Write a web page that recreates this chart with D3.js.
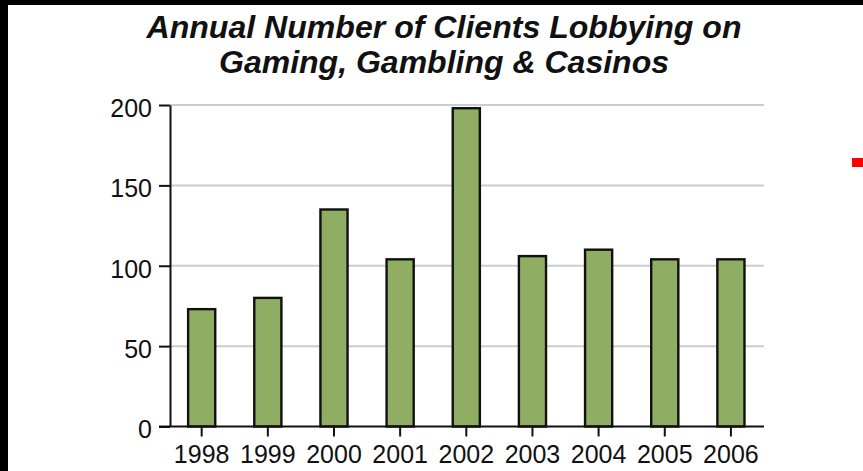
<!DOCTYPE html>
<html>
<head>
<meta charset="utf-8">
<script src="https://cdn.jsdelivr.net/npm/d3@7"></script>
<style>
  body { margin: 0; background: #fff; }
  svg { display: block; }
</style>
</head>
<body>
<svg id="chart" width="863" height="471"></svg>
<script>
// data
const years = ["1998", "1999", "2000", "2001", "2002", "2003", "2004", "2005", "2006"];
const clients = [73, 80, 135, 104, 198, 106, 110, 104, 104];
const yTicks = [0, 50, 100, 150, 200];
const titleLines = ["Annual Number of Clients Lobbying on", "Gaming, Gambling & Casinos"];

const width = 863;
const height = 471;
const margin = { top: 105, right: 99, bottom: 44.5, left: 170 };

const svg = d3.select("#chart");

// white page with the dark frame bits
svg.append("rect").attr("width", width).attr("height", height).attr("fill", "#fff");
svg.append("rect").attr("x", 0).attr("y", 0).attr("width", width).attr("height", 5).attr("fill", "#000");
svg.append("rect").attr("x", 0).attr("y", 0).attr("width", 8).attr("height", height).attr("fill", "#000");
svg.append("rect").attr("x", 852).attr("y", 158).attr("width", 11).attr("height", 9).attr("fill", "#f00");

const yScale = d3.scaleLinear()
  .domain([0, 200])
  .range([height - margin.bottom, margin.top]);

const xScale = d3.scaleBand()
  .domain(years)
  .range([168.6, width - margin.right])
  .paddingInner(0.59)
  .paddingOuter(0.295);

const axisFont = "'Liberation Sans', Arial, sans-serif";
const tickLen = 11;

// gridlines
svg.append("g")
  .selectAll("line")
  .data(yTicks.filter(d => d !== 0))
  .join("line")
  .attr("x1", margin.left)
  .attr("x2", width - margin.right)
  .attr("y1", d => yScale(d))
  .attr("y2", d => yScale(d))
  .attr("stroke", "#cccccc")
  .attr("stroke-width", 2);

// bars
svg.append("g")
  .selectAll("rect")
  .data(clients)
  .join("rect")
  .attr("x", (d, i) => xScale(years[i]))
  .attr("y", d => yScale(d))
  .attr("width", xScale.bandwidth())
  .attr("height", d => yScale(0) - yScale(d))
  .attr("fill", "#8fae63")
  .attr("stroke", "#111")
  .attr("stroke-width", 2.4);

// y axis
const yAxis = d3.axisLeft(yScale)
  .tickValues(yTicks)
  .tickSize(tickLen)
  .tickSizeOuter(0)
  .tickPadding(7);
const gy = svg.append("g")
  .attr("transform", `translate(${margin.left}, 0)`)
  .call(yAxis);
gy.select(".domain").attr("stroke", "#111").attr("stroke-width", 2);
gy.selectAll(".tick line").attr("stroke", "#111").attr("stroke-width", 2);
gy.selectAll(".tick text")
  .attr("dy", "0.45em")
  .attr("fill", "#111")
  .style("font-family", axisFont)
  .style("font-size", "25px");

// x axis
const xAxis = d3.axisBottom(xScale)
  .tickSize(10)
  .tickSizeOuter(0)
  .tickPadding(9);
const gx = svg.append("g")
  .attr("transform", `translate(0, ${yScale(0)})`)
  .call(xAxis);
gx.select(".domain").remove();
gx.append("line")
  .attr("x1", margin.left - tickLen)
  .attr("x2", width - margin.right)
  .attr("stroke", "#111")
  .attr("stroke-width", 2);
gx.selectAll(".tick line").attr("stroke", "#111").attr("stroke-width", 2);
gx.selectAll(".tick text")
  .attr("fill", "#111")
  .style("font-family", axisFont)
  .style("font-size", "25px");

// title
const titleWidths = [595, 450];
svg.append("g")
  .selectAll("text")
  .data(titleLines)
  .join("text")
  .attr("x", 444)
  .attr("y", (d, i) => 38 + i * 35)
  .attr("text-anchor", "middle")
  .attr("textLength", (d, i) => titleWidths[i])
  .attr("lengthAdjust", "spacingAndGlyphs")
  .attr("fill", "#111")
  .style("font-family", "'Liberation Sans Narrow', 'Arial Narrow', 'Liberation Sans', Arial, sans-serif")
  .style("font-weight", "bold")
  .style("font-style", "italic")
  .style("font-size", "31px")
  .text(d => d);
</script>
</body>
</html>
